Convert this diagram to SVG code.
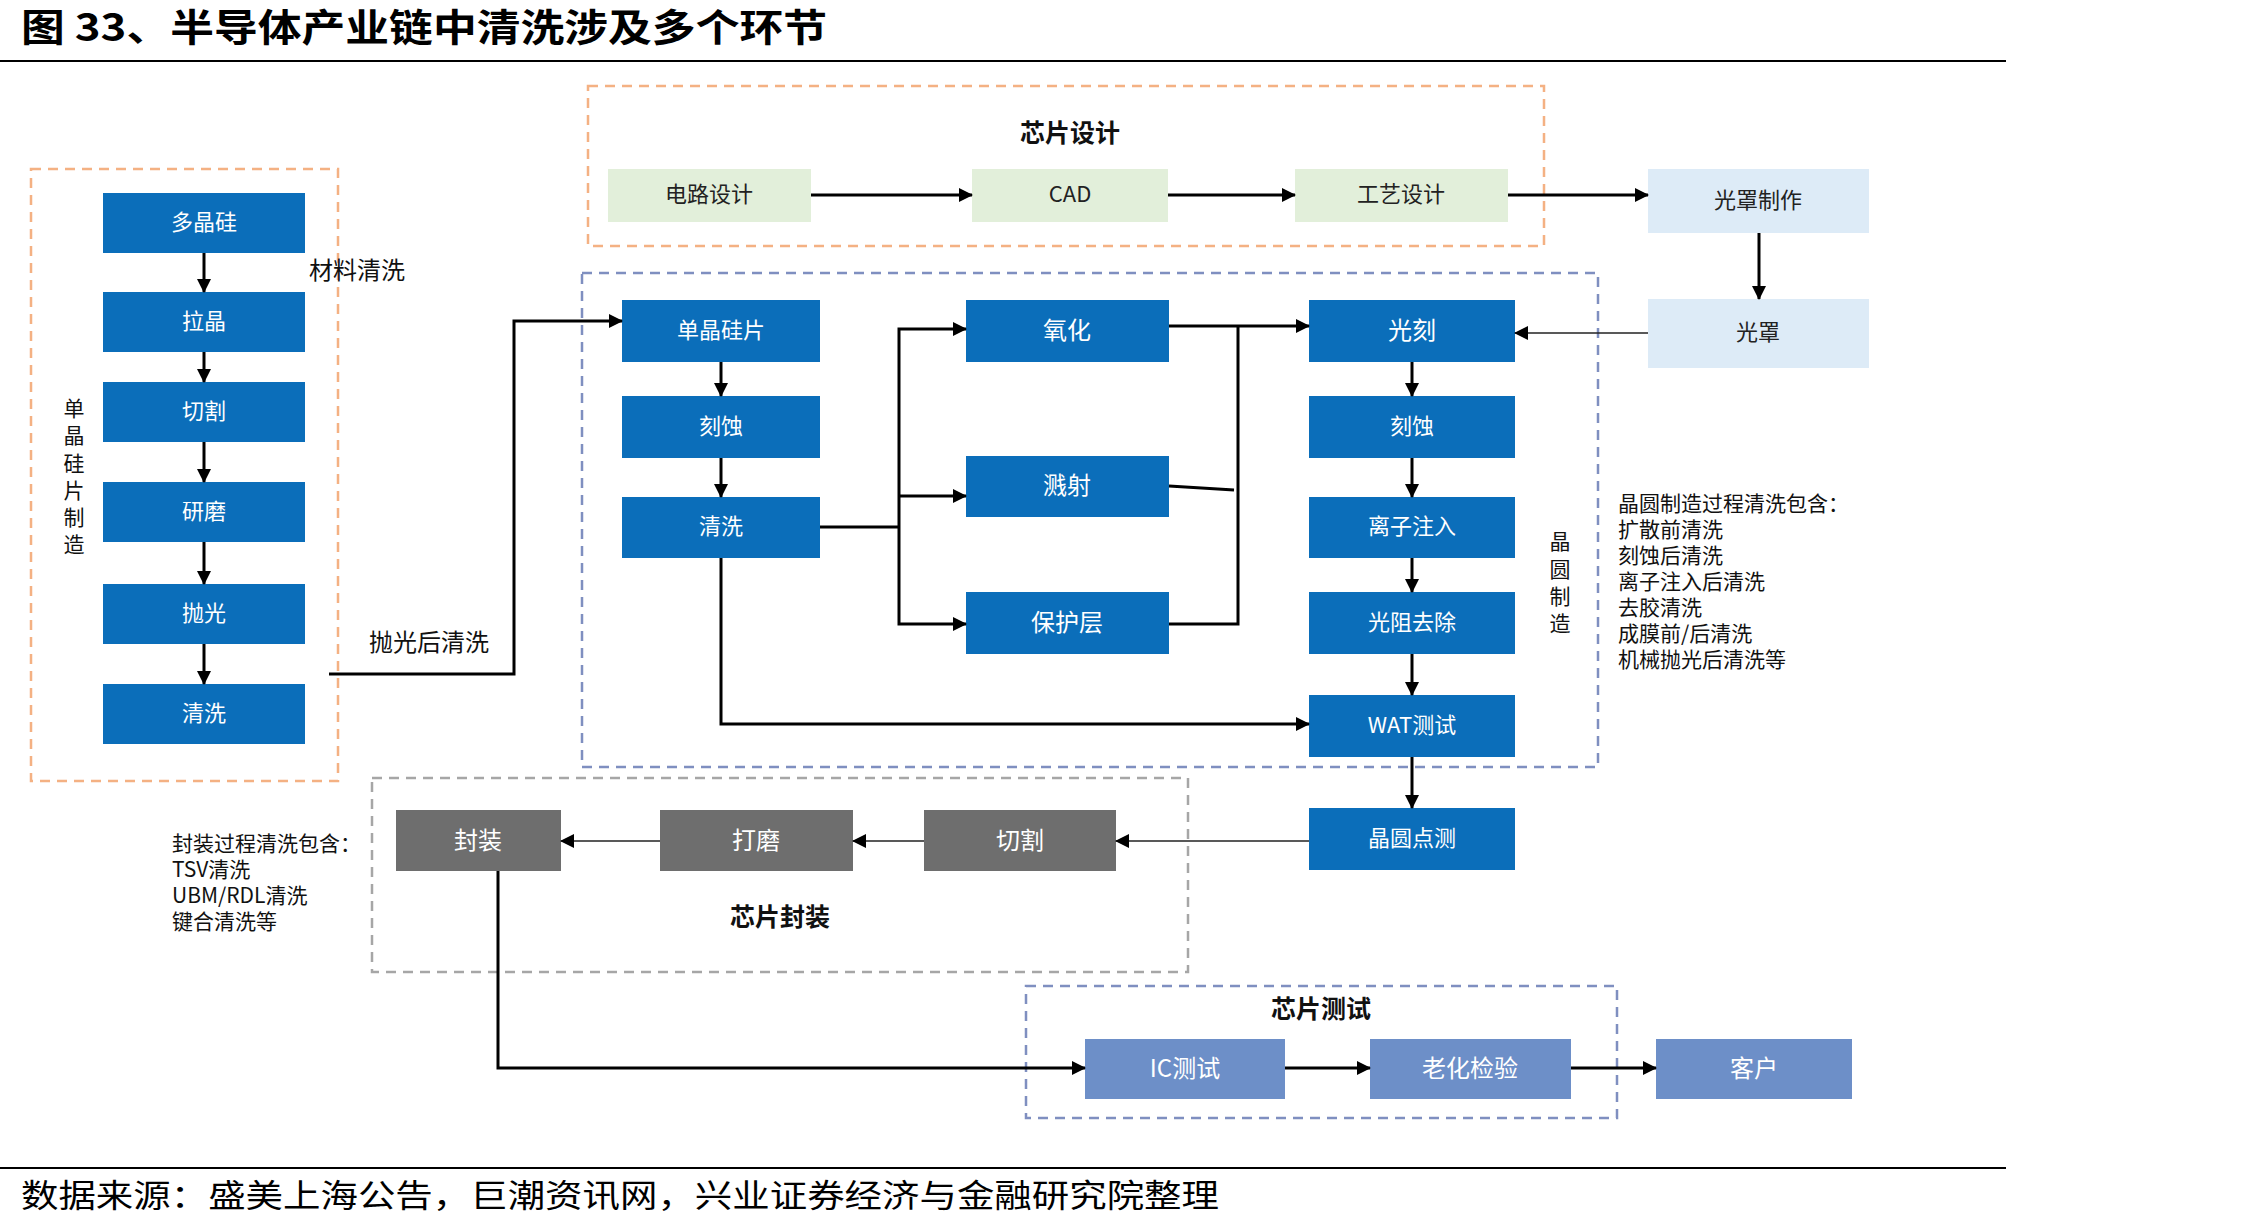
<svg xmlns="http://www.w3.org/2000/svg" width="2244" height="1230" viewBox="0 0 2244 1230">
<style>
text{font-family:"Noto Sans CJK SC","Liberation Sans",sans-serif}
.t{text-anchor:middle;dominant-baseline:central}
.w{fill:#fff;font-size:22px}
.wb{fill:#fff;font-size:24px}
.k{fill:#222;font-size:22px}
.lab{fill:#111;font-size:24px}
.hd{fill:#111;font-size:25px;font-weight:bold}
.blue{fill:#0B6EBA}
.green{fill:#E2EFDA}
.lblue{fill:#DDEBF7}
.grey{fill:#6E6E6E}
.steel{fill:#6D8FC8}
.c{fill:none;stroke:#000;stroke-width:3}
.ct{fill:none;stroke:#222;stroke-width:1.6}
.dash-o{fill:none;stroke:#F4B183;stroke-width:2.5;stroke-dasharray:10 7}
.dash-b{fill:none;stroke:#7F8FC0;stroke-width:2.5;stroke-dasharray:10 7}
.dash-g{fill:none;stroke:#A6A6A6;stroke-width:2.5;stroke-dasharray:10 7}
</style>
<defs>
<marker id="a" markerWidth="14" markerHeight="14" refX="13" refY="7" orient="auto" markerUnits="userSpaceOnUse"><path d="M0,0 L14,7 L0,14 z" fill="#000"/></marker>
</defs>
<rect width="2244" height="1230" fill="#fff"/>
<!-- title / footer -->
<text x="21" y="41" font-size="38" font-weight="bold" fill="#000" textLength="806" lengthAdjust="spacingAndGlyphs">图 33、半导体产业链中清洗涉及多个环节</text>
<line x1="0" y1="61" x2="2006" y2="61" stroke="#000" stroke-width="2"/>
<line x1="0" y1="1168" x2="2006" y2="1168" stroke="#000" stroke-width="2"/>
<text x="21" y="1207" font-size="32" fill="#000" textLength="1198" lengthAdjust="spacingAndGlyphs">数据来源：盛美上海公告，巨潮资讯网，兴业证券经济与金融研究院整理</text>

<!-- group frames -->
<g id="frames">
<rect class="dash-o" x="31" y="169" width="307" height="612"/>
<rect class="dash-o" x="588" y="86" width="956" height="160"/>
<rect class="dash-b" x="582" y="273" width="1016" height="494"/>
<rect class="dash-g" x="372" y="778" width="816" height="194"/>
<rect class="dash-b" x="1026" y="986" width="591" height="132"/>
</g>

<!-- labels -->
<g id="labels">
<text class="lab" x="309" y="268" dominant-baseline="central">材料清洗</text>
<text class="lab" x="369" y="640" dominant-baseline="central" font-size="26">抛光后清洗</text>
<g font-size="21" fill="#111">
<text class="t" x="74" y="407">单</text><text class="t" x="74" y="434">晶</text><text class="t" x="74" y="462">硅</text><text class="t" x="74" y="489">片</text><text class="t" x="74" y="516">制</text><text class="t" x="74" y="543">造</text>
<text class="t" x="1560" y="540">晶</text><text class="t" x="1560" y="568">圆</text><text class="t" x="1560" y="595">制</text><text class="t" x="1560" y="622">造</text>
</g>
<text class="hd t" x="1070" y="131">芯片设计</text>
<text class="hd t" x="780" y="915">芯片封装</text>
<text class="hd t" x="1321" y="1007">芯片测试</text>
<g font-size="21" fill="#111">
<text x="1618" y="502" dominant-baseline="central">晶圆制造过程清洗包含：</text>
<text x="1618" y="528" dominant-baseline="central">扩散前清洗</text>
<text x="1618" y="554" dominant-baseline="central">刻蚀后清洗</text>
<text x="1618" y="580" dominant-baseline="central">离子注入后清洗</text>
<text x="1618" y="606" dominant-baseline="central">去胶清洗</text>
<text x="1618" y="632" dominant-baseline="central">成膜前/后清洗</text>
<text x="1618" y="658" dominant-baseline="central">机械抛光后清洗等</text>
<text x="172" y="842" dominant-baseline="central">封装过程清洗包含：</text>
<text x="172" y="868" dominant-baseline="central">TSV清洗</text>
<text x="172" y="894" dominant-baseline="central">UBM/RDL清洗</text>
<text x="172" y="920" dominant-baseline="central">键合清洗等</text>
</g>
</g>

<!-- left column -->
<g id="n-duojinggui"><rect class="blue" x="103" y="193" width="202" height="60"/><text class="t w" x="204" y="220">多晶硅</text></g>
<g id="n-lajing"><rect class="blue" x="103" y="292" width="202" height="60"/><text class="t w" x="204" y="319">拉晶</text></g>
<g id="n-qiege1"><rect class="blue" x="103" y="382" width="202" height="60"/><text class="t w" x="204" y="409">切割</text></g>
<g id="n-yanmo"><rect class="blue" x="103" y="482" width="202" height="60"/><text class="t w" x="204" y="509">研磨</text></g>
<g id="n-paoguang"><rect class="blue" x="103" y="584" width="202" height="60"/><text class="t w" x="204" y="611">抛光</text></g>
<g id="n-qingxi1"><rect class="blue" x="103" y="684" width="202" height="60"/><text class="t w" x="204" y="711">清洗</text></g>

<!-- design -->
<g id="n-dianlu"><rect class="green" x="608" y="169" width="203" height="53"/><text class="t k" x="709" y="192">电路设计</text></g>
<g id="n-cad"><rect class="green" x="972" y="169" width="196" height="53"/><text class="t k" x="1070" y="192">CAD</text></g>
<g id="n-gongyi"><rect class="green" x="1295" y="169" width="213" height="53"/><text class="t k" x="1401" y="192">工艺设计</text></g>
<g id="n-guangzhaozz"><rect class="lblue" x="1648" y="169" width="221" height="64"/><text class="t k" x="1758" y="198" font-size="24">光罩制作</text></g>
<g id="n-guangzhao"><rect class="lblue" x="1648" y="299" width="221" height="69"/><text class="t k" x="1758" y="330" font-size="24">光罩</text></g>

<!-- wafer -->
<g id="n-danjing"><rect class="blue" x="622" y="300" width="198" height="62"/><text class="t w" x="721" y="328">单晶硅片</text></g>
<g id="n-keshi1"><rect class="blue" x="622" y="396" width="198" height="62"/><text class="t w" x="721" y="424">刻蚀</text></g>
<g id="n-qingxi2"><rect class="blue" x="622" y="497" width="198" height="61"/><text class="t w" x="721" y="524">清洗</text></g>
<g id="n-yanghua"><rect class="blue" x="966" y="300" width="203" height="62"/><text class="t wb" x="1067" y="328">氧化</text></g>
<g id="n-jianshe"><rect class="blue" x="966" y="456" width="203" height="61"/><text class="t wb" x="1067" y="483">溅射</text></g>
<g id="n-baohu"><rect class="blue" x="966" y="592" width="203" height="62"/><text class="t wb" x="1067" y="620">保护层</text></g>
<g id="n-guangke"><rect class="blue" x="1309" y="300" width="206" height="62"/><text class="t wb" x="1412" y="328">光刻</text></g>
<g id="n-keshi2"><rect class="blue" x="1309" y="396" width="206" height="62"/><text class="t w" x="1412" y="424">刻蚀</text></g>
<g id="n-lizi"><rect class="blue" x="1309" y="497" width="206" height="61"/><text class="t w" x="1412" y="524">离子注入</text></g>
<g id="n-guangzu"><rect class="blue" x="1309" y="592" width="206" height="62"/><text class="t w" x="1412" y="620">光阻去除</text></g>
<g id="n-wat"><rect class="blue" x="1309" y="695" width="206" height="62"/><text class="t w" x="1412" y="723">WAT测试</text></g>
<g id="n-diance"><rect class="blue" x="1309" y="808" width="206" height="62"/><text class="t w" x="1412" y="836">晶圆点测</text></g>

<!-- packaging -->
<g id="n-fengzhuang"><rect class="grey" x="396" y="810" width="165" height="61"/><text class="t wb" x="478" y="838">封装</text></g>
<g id="n-damo"><rect class="grey" x="660" y="810" width="193" height="61"/><text class="t wb" x="756" y="838">打磨</text></g>
<g id="n-qiege2"><rect class="grey" x="924" y="810" width="192" height="61"/><text class="t wb" x="1020" y="838">切割</text></g>

<!-- test -->
<g id="n-ic"><rect class="steel" x="1085" y="1039" width="200" height="60"/><text class="t wb" x="1185" y="1066">IC测试</text></g>
<g id="n-laohua"><rect class="steel" x="1370" y="1039" width="201" height="60"/><text class="t wb" x="1470" y="1066">老化检验</text></g>
<g id="n-kehu"><rect class="steel" x="1656" y="1039" width="196" height="60"/><text class="t wb" x="1754" y="1066">客户</text></g>

<!-- connectors -->
<g id="connectors">
<path class="c" marker-end="url(#a)" d="M204,253 V292"/>
<path class="c" marker-end="url(#a)" d="M204,352 V382"/>
<path class="c" marker-end="url(#a)" d="M204,442 V482"/>
<path class="c" marker-end="url(#a)" d="M204,542 V584"/>
<path class="c" marker-end="url(#a)" d="M204,644 V684"/>
<path class="c" marker-end="url(#a)" d="M329,674 H514 V321 H622"/>
<path class="c" marker-end="url(#a)" d="M811,195 H972"/>
<path class="c" marker-end="url(#a)" d="M1168,195 H1295"/>
<path class="c" marker-end="url(#a)" d="M1508,195 H1648"/>
<path class="c" marker-end="url(#a)" d="M1759,233 V299"/>
<path class="ct" marker-end="url(#a)" d="M1648,333 H1515"/>
<path class="c" marker-end="url(#a)" d="M721,362 V396"/>
<path class="c" marker-end="url(#a)" d="M721,458 V497"/>
<path class="c" d="M820,527 H899"/>
<path class="c" marker-end="url(#a)" d="M899,527 V329 H966"/>
<path class="c" marker-end="url(#a)" d="M899,496 H966"/>
<path class="c" marker-end="url(#a)" d="M899,527 V624 H966"/>
<path class="c" marker-end="url(#a)" d="M1169,326 H1309"/>
<path class="c" d="M1238,326 V624 H1169"/>
<path class="c" d="M1169,486 L1234,490"/>
<path class="c" marker-end="url(#a)" d="M721,558 V724 H1309"/>
<path class="c" marker-end="url(#a)" d="M1412,362 V396"/>
<path class="c" marker-end="url(#a)" d="M1412,458 V497"/>
<path class="c" marker-end="url(#a)" d="M1412,558 V592"/>
<path class="c" marker-end="url(#a)" d="M1412,654 V695"/>
<path class="c" marker-end="url(#a)" d="M1412,757 V808"/>
<path class="ct" marker-end="url(#a)" d="M1309,841 H1116"/>
<path class="ct" marker-end="url(#a)" d="M924,841 H853"/>
<path class="ct" marker-end="url(#a)" d="M660,841 H561"/>
<path class="c" marker-end="url(#a)" d="M498,871 V1068 H1085"/>
<path class="c" marker-end="url(#a)" d="M1285,1068 H1370"/>
<path class="c" marker-end="url(#a)" d="M1571,1068 H1656"/>
</g>
</svg>
